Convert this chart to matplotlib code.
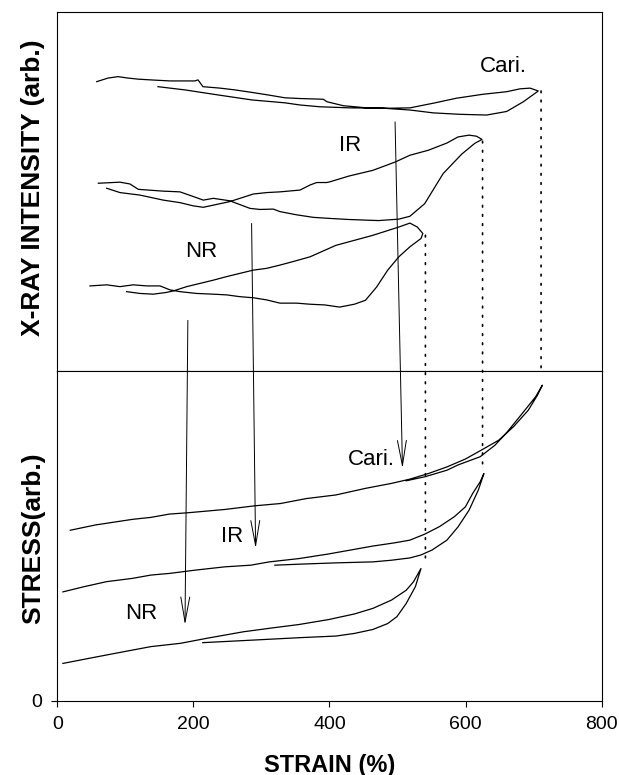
import matplotlib
matplotlib.use('Agg')
import matplotlib.pyplot as plt
from matplotlib.patches import ConnectionPatch

plt.rcParams['font.family'] = ['Liberation Sans', 'DejaVu Sans']

# X-ray intensity loops (strain %, arb. units): out along one branch, back along the other
nr_xray_strain = [47.9, 72.5, 92.0, 111.6, 131.3, 150.8, 165.5, 180.2, 204.8, 229.2,
                  248.9, 268.4, 288.0, 307.7, 327.2, 351.8, 371.3, 393.1, 414.9, 436.6,
                  452.9, 469.3, 485.6, 501.9, 518.2, 534.5, 537.2,
                  529.1, 518.2, 501.9, 463.8, 409.4, 371.3, 346.8, 327.2, 307.7, 288.0,
                  268.4, 248.9, 229.2, 209.6, 190.1, 170.4, 160.7, 141.0, 121.4, 101.9]
nr_xray_int = [23.7, 24.0, 23.5, 24.0, 23.7, 23.7, 22.6, 22.1, 21.6, 21.4,
               21.2, 20.7, 20.4, 19.8, 18.9, 18.9, 18.6, 18.4, 17.8, 18.6,
               19.7, 23.4, 28.1, 31.8, 34.6, 36.9, 38.3,
               40.1, 41.2, 40.1, 37.8, 35.0, 31.8, 30.5, 29.5, 28.6, 28.1,
               27.2, 26.3, 25.3, 24.4, 23.5, 22.3, 21.9, 21.4, 21.6, 22.1]

ir_xray_strain = [60.2, 92.0, 106.7, 119.0, 155.7, 180.2, 199.8, 214.5, 229.2, 253.7,
                  283.1, 297.8, 317.4, 327.2, 351.8, 376.2, 400.7, 428.5, 472.0, 501.9,
                  518.2, 539.9, 567.1, 594.3, 613.4, 624.2,
                  616.1, 605.2, 588.9, 572.6, 545.4, 518.2, 496.4, 463.8, 428.5, 400.7,
                  395.9, 381.2, 371.3, 356.6, 327.2, 307.7, 288.0, 268.4, 253.7, 229.2,
                  214.5, 199.8, 180.2, 155.7, 121.4, 92.0, 72.5]
ir_xray_int = [52.3, 52.6, 52.1, 50.6, 50.1, 49.9, 48.6, 47.6, 48.1, 47.4,
               45.3, 45.0, 45.1, 44.4, 43.5, 42.8, 42.5, 42.2, 41.9, 42.3,
               43.1, 46.6, 55.0, 60.4, 63.4, 64.5,
               65.4, 65.7, 65.2, 63.5, 61.5, 60.1, 58.2, 55.9, 54.3, 52.7,
               52.5, 52.5, 51.8, 50.4, 49.9, 49.7, 49.3, 48.1, 47.2, 46.2,
               45.6, 46.0, 46.9, 47.6, 49.0, 49.7, 50.9]

cari_xray_strain = [57.8, 74.4, 89.1, 103.8, 118.5, 136.1, 165.5, 202.3, 206.7, 214.0,
                    239.0, 261.1, 286.1, 309.6, 334.6, 356.7, 390.9, 396.3, 420.3, 454.7,
                    488.9, 518.3, 552.6, 587.0, 626.1, 660.5, 680.1, 694.8, 706.9,
                    684.9, 660.5, 631.1, 591.9, 552.6, 518.3, 479.1, 430.1, 386.0, 356.7,
                    334.6, 286.1, 236.1, 187.6, 147.9]
cari_xray_int = [80.6, 81.6, 82.0, 81.6, 81.3, 81.1, 80.8, 80.8, 81.1, 79.2,
                 78.8, 78.3, 77.6, 76.9, 76.1, 75.9, 75.7, 75.0, 73.9, 73.3,
                 73.2, 73.3, 74.6, 76.0, 77.1, 77.8, 78.6, 78.8, 78.0,
                 75.0, 72.3, 71.3, 71.5, 71.9, 72.7, 73.2, 73.3, 73.6, 74.1,
                 74.7, 75.5, 76.9, 78.3, 79.2]

# Stress-strain loops
nr_stress_strain = [8.1, 50.5, 88.6, 137.5, 181.0, 219.1, 273.5, 317.0, 355.1, 398.6,
                    436.6, 463.8, 491.0, 512.8, 523.6, 534.5,
                    526.3, 512.8, 499.2, 485.6, 463.8, 436.6, 409.4, 355.1, 289.8, 213.7]
nr_stress = [11.3, 13.0, 14.5, 16.4, 17.4, 18.9, 20.9, 22.1, 23.1, 24.6,
             26.3, 28.0, 30.5, 33.5, 36.1, 40.1,
             34.6, 29.5, 25.5, 23.4, 21.6, 20.4, 19.6, 19.1, 18.4, 17.6]

ir_stress_strain = [8.1, 39.7, 72.3, 110.4, 137.5, 164.7, 202.8, 246.3, 284.4, 311.6,
                    355.1, 398.6, 436.6, 463.8, 496.4, 518.2, 539.9, 561.7, 583.5, 599.8,
                    610.6, 621.5, 627.0,
                    618.8, 605.2, 588.9, 572.6, 550.8, 534.5, 518.2, 491.0, 463.8, 409.4,
                    355.1, 319.7]
ir_stress = [33.0, 34.6, 36.1, 37.1, 38.1, 38.6, 39.6, 40.6, 41.1, 42.1,
             43.1, 44.5, 45.9, 46.9, 47.9, 48.7, 50.5, 52.8, 55.8, 58.8,
             62.9, 66.4, 68.9,
             63.9, 57.8, 52.7, 48.7, 45.7, 44.2, 43.3, 42.6, 42.1, 41.8,
             41.4, 41.1]

cari_stress_strain = [19.0, 56.0, 110.4, 137.5, 164.7, 191.9, 246.3, 289.8, 327.9, 365.9,
                      409.4, 452.9, 491.0, 518.2, 545.4, 572.6, 599.8, 621.5, 648.7, 670.5,
                      692.2, 705.8, 712.9,
                      703.1, 681.3, 659.6, 643.3, 621.5, 588.9, 572.6, 540.0, 512.8]
cari_stress = [51.7, 53.3, 55.0, 55.6, 56.6, 57.0, 58.0, 59.1, 59.8, 61.3,
               62.4, 64.4, 65.9, 67.2, 68.9, 70.9, 73.3, 75.8, 79.0, 83.1,
               88.1, 92.7, 95.7,
               92.2, 86.6, 81.1, 77.5, 74.0, 71.5, 69.9, 67.9, 66.7]

# maximum strain of each sample (dotted guides)
max_strain = {'NR': 541, 'IR': 625, 'Cari.': 711}

fig = plt.figure(figsize=(6.19, 7.75), dpi=100)
ax_top = fig.add_axes([0.0927, 0.5213, 0.8792, 0.4632])
ax_bot = fig.add_axes([0.0927, 0.0959, 0.8792, 0.4254])

lw = 0.9
for xs, ys in [(nr_xray_strain, nr_xray_int), (ir_xray_strain, ir_xray_int),
               (cari_xray_strain, cari_xray_int)]:
    ax_top.plot(xs, ys, color='black', lw=lw)
for xs, ys in [(nr_stress_strain, nr_stress), (ir_stress_strain, ir_stress),
               (cari_stress_strain, cari_stress)]:
    ax_bot.plot(xs, ys, color='black', lw=lw)

for ax in (ax_top, ax_bot):
    ax.set_xlim(0, 800)
    ax.set_ylim(0, 100)
    for sp in ax.spines.values():
        sp.set_linewidth(0.8)

ax_top.set_xticks([])
ax_top.set_yticks([])
ax_bot.set_xticks([0, 200, 400, 600, 800])
ax_bot.set_yticks([0])
ax_bot.tick_params(direction='out', length=4, width=0.8, pad=7, labelsize=14)

# sample labels
lab_kw = dict(fontsize=16, ha='center', va='center')
ax_top.text(656, 84.7, 'Cari.', **lab_kw)
ax_top.text(431, 62.9, 'IR', **lab_kw)
ax_top.text(212, 33.2, 'NR', **lab_kw)
ax_bot.text(461, 73.3, 'Cari.', **lab_kw)
ax_bot.text(257, 49.7, 'IR', **lab_kw)
ax_bot.text(123, 26.5, 'NR', **lab_kw)

# arrows from x-ray curves down to stress curves
arrows = [((191.8, 14.1), (187.6, 23.0)),
          ((285.5, 41.1), (291.4, 46.2)),
          ((496.4, 69.4), (507.3, 70.5))]
for a, b in arrows:
    con = ConnectionPatch(xyA=a, coordsA=ax_top.transData, xyB=b, coordsB=ax_bot.transData,
                          arrowstyle='->,head_length=1.8,head_width=0.32', mutation_scale=10,
                          color='black', lw=0.7)
    fig.add_artist(con)

# dotted guides at maximum strain
guides = [(max_strain['NR'], 37.8, 41.5),
          (max_strain['IR'], 64.0, 70.0),
          (max_strain['Cari.'], 78.0, 99.0)]
for x, ytop, ybot in guides:
    con = ConnectionPatch(xyA=(x, ytop), coordsA=ax_top.transData,
                          xyB=(x, ybot), coordsB=ax_bot.transData,
                          color='black', lw=1.2, linestyle=(0, (1, 4.5)))
    fig.add_artist(con)

fig.text(0.0533, 0.758, 'X-RAY INTENSITY (arb.)', rotation=90, ha='center', va='center',
         fontsize=19, fontweight='bold')
fig.text(0.0533, 0.3052, 'STRESS(arb.)', rotation=90, ha='center', va='center',
         fontsize=19, fontweight='bold')
fig.text(0.532, 0.0129, 'STRAIN (%)', ha='center', va='center',
         fontsize=17, fontweight='bold')

fig.savefig('out.png', dpi=100)
